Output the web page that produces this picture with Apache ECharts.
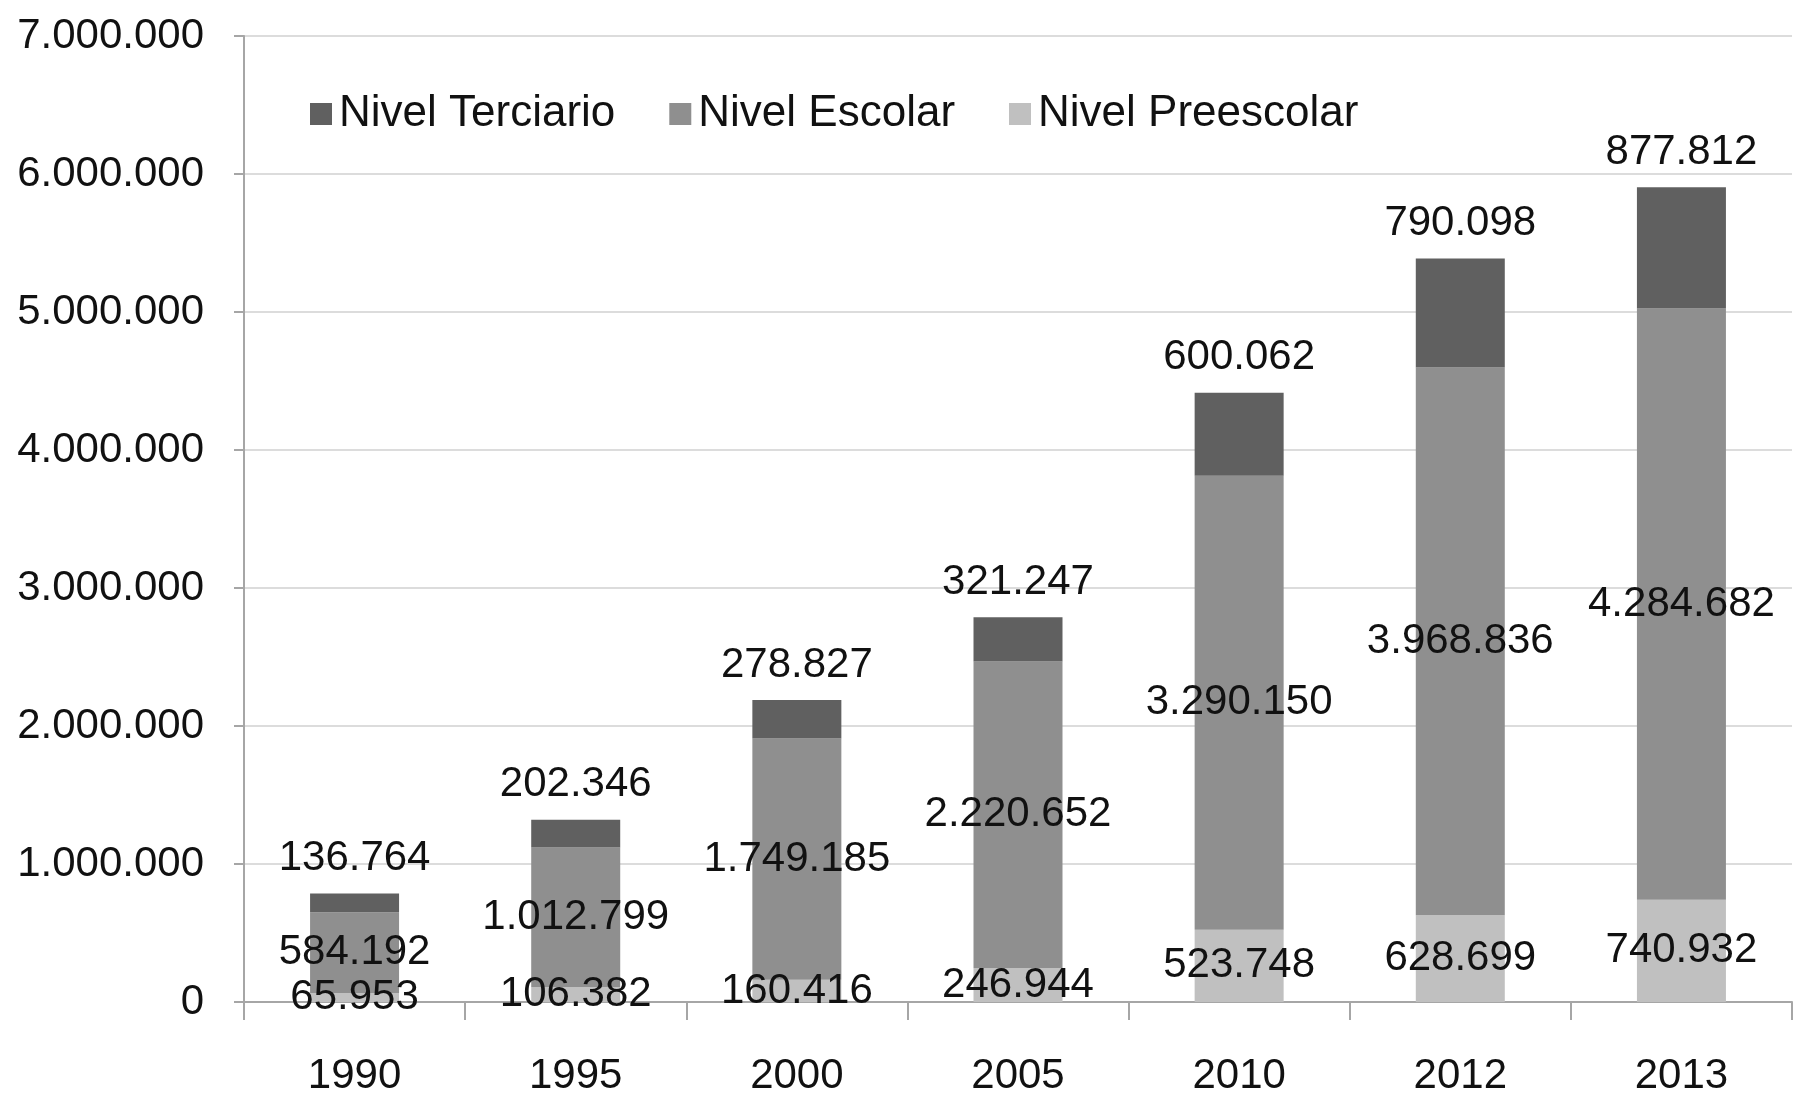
<!DOCTYPE html>
<html>
<head>
<meta charset="utf-8">
<script src="https://cdn.jsdelivr.net/npm/echarts@6/dist/echarts.min.js"></script>
<style>
  html, body { margin: 0; padding: 0; background: #fff; }
  #chart { width: 1795px; height: 1097px; }
</style>
</head>
<body>
<div id="chart"></div>
<script>
// datos por nivel educativo
const years = ["1990", "1995", "2000", "2005", "2010", "2012", "2013"];
const preescolar = [65953, 106382, 160416, 246944, 523748, 628699, 740932];
const escolar = [584192, 1012799, 1749185, 2220652, 3290150, 3968836, 4284682];
const terciario = [136764, 202346, 278827, 321247, 600062, 790098, 877812];

const fontFamily = "'Liberation Sans', Arial, sans-serif";
const fmt = v => String(v).replace(/\B(?=(\d{3})+(?!\d))/g, ".");

const labelStyle = {
  show: true,
  color: "#111",
  fontSize: 42,
  fontFamily: fontFamily,
  formatter: p => fmt(p.value)
};

const chart = echarts.init(document.getElementById("chart"));
chart.setOption({
  animation: false,
  textStyle: { fontFamily: fontFamily },
  grid: { left: 244, right: 3, top: 36, bottom: 93 },
  legend: {
    data: ["Nivel Terciario", "Nivel Escolar", "Nivel Preescolar"],
    left: 305,
    top: 87,
    icon: "rect",
    itemWidth: 22,
    itemHeight: 22,
    itemGap: 54,
    textStyle: { color: "#111", fontSize: 44, fontFamily: fontFamily, padding: [0, 0, 0, 2] }
  },
  xAxis: {
    type: "category",
    data: years,
    axisLine: { lineStyle: { color: "#a6a6a6", width: 2 } },
    axisTick: { show: true, length: 18, lineStyle: { color: "#a6a6a6", width: 2 } },
    axisLabel: { color: "#111", fontSize: 42, margin: 53, fontFamily: fontFamily }
  },
  yAxis: {
    type: "value",
    min: 0,
    max: 7000000,
    interval: 1000000,
    axisLine: { show: true, lineStyle: { color: "#a6a6a6", width: 2 } },
    axisTick: { show: true, length: 10, lineStyle: { color: "#a6a6a6", width: 2 } },
    splitLine: { lineStyle: { color: "#dcdcdc", width: 2 } },
    axisLabel: { color: "#111", fontSize: 42, margin: 40, fontFamily: fontFamily, formatter: v => fmt(v) }
  },
  series: [
    {
      name: "Nivel Preescolar",
      type: "bar",
      stack: "total",
      barWidth: 89,
      data: preescolar,
      itemStyle: { color: "#c0c0c0" },
      label: Object.assign({ position: "inside" }, labelStyle)
    },
    {
      name: "Nivel Escolar",
      type: "bar",
      stack: "total",
      barWidth: 89,
      data: escolar,
      itemStyle: { color: "#8f8f8f" },
      label: Object.assign({ position: "inside" }, labelStyle)
    },
    {
      name: "Nivel Terciario",
      type: "bar",
      stack: "total",
      barWidth: 89,
      data: terciario,
      itemStyle: { color: "#606060" },
      label: Object.assign({ position: "top", distance: 14 }, labelStyle)
    }
  ]
});
</script>
</body>
</html>
